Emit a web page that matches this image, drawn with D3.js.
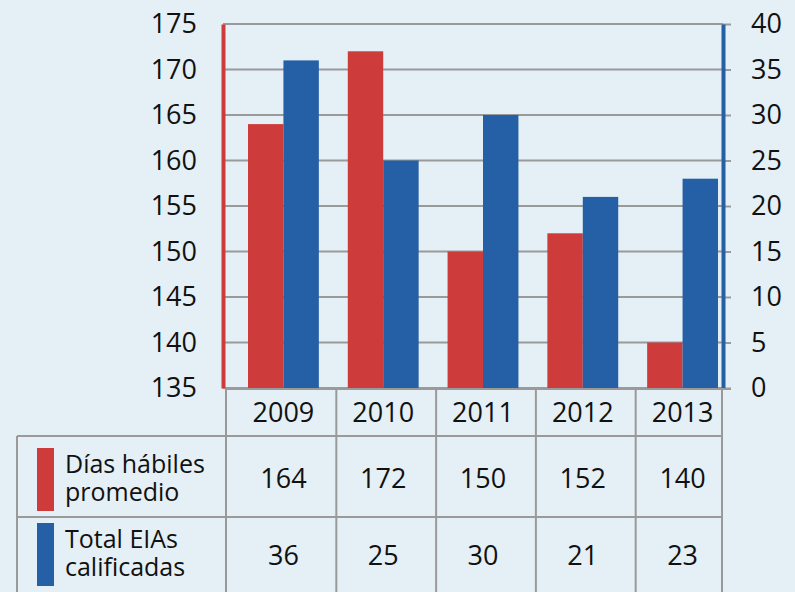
<!DOCTYPE html>
<html>
<head>
<meta charset="utf-8">
<script src="https://cdn.jsdelivr.net/npm/d3@7/dist/d3.min.js"></script>
<style>
  body { margin: 0; background: #e4eff6; }
  svg { display: block; font-family: "Open Sans", sans-serif; }
</style>
</head>
<body>
<svg id="chart" width="795" height="592"></svg>
<script>
// data
var years = ["2009", "2010", "2011", "2012", "2013"];
var diasHabiles = [164, 172, 150, 152, 140];
var totalEIAs = [36, 25, 30, 21, 23];
var seriesNames = ["Días hábiles|promedio", "Total EIAs|calificadas"];
var seriesColors = ["#cd3c3a", "#255fa6"];

var svg = d3.select("#chart");
var W = 795, H = 592;

// plot area
var plotLeft = 223, plotRight = 723, plotTop = 24, plotBottom = 388;

var yL = d3.scaleLinear().domain([135, 175]).range([plotBottom, plotTop]);
var yR = d3.scaleLinear().domain([0, 40]).range([plotBottom, plotTop]);

var x = d3.scaleBand().domain(years)
	.range([plotLeft + 25, plotRight - 5])
	.paddingInner(0.29).paddingOuter(0);
var xs = d3.scaleBand().domain([0, 1]).range([0, x.bandwidth()]);

var rows = years.map(function(y, i) {
	return { year: y, dias: diasHabiles[i], eias: totalEIAs[i] };
});

// gridlines
svg.append("g").selectAll("line")
	.data(yL.ticks(8))
	.enter().append("line")
	.attr("x1", plotLeft).attr("x2", plotRight)
	.attr("y1", function(d) { return yL(d); })
	.attr("y2", function(d) { return yL(d); })
	.attr("stroke", "#9a9a9a")
	.attr("stroke-width", 2);

// bars
var groups = svg.append("g").selectAll("g")
	.data(rows).enter().append("g")
	.attr("transform", function(d) { return "translate(" + x(d.year) + ",0)"; });

groups.append("rect")
	.attr("x", xs(0)).attr("width", xs.bandwidth())
	.attr("y", function(d) { return yL(d.dias); })
	.attr("height", function(d) { return plotBottom - yL(d.dias); })
	.attr("fill", seriesColors[0]);

groups.append("rect")
	.attr("x", xs(1)).attr("width", xs.bandwidth())
	.attr("y", function(d) { return yR(d.eias); })
	.attr("height", function(d) { return plotBottom - yR(d.eias); })
	.attr("fill", seriesColors[1]);

// left axis (red)
var axL = svg.append("g")
	.attr("transform", "translate(" + plotLeft + ",0)")
	.call(d3.axisLeft(yL).ticks(8).tickSize(0).tickPadding(26));
axL.select(".domain").attr("stroke", seriesColors[0]).attr("stroke-width", 4);

// right axis (blue)
var axR = svg.append("g")
	.attr("transform", "translate(" + plotRight + ",0)")
	.call(d3.axisRight(yR).ticks(8).tickSizeInner(8).tickSizeOuter(0).tickPadding(20));
axR.selectAll(".tick line").attr("stroke", "#9a9a9a").attr("stroke-width", 2);
axR.select(".domain").attr("stroke", seriesColors[1]).attr("stroke-width", 4).raise();

svg.selectAll(".tick text")
	.attr("font-size", 27)
	.attr("font-family", "Open Sans, sans-serif")
	.attr("fill", "#111");

// data table
var tblLeft = 17, rowLines = [plotBottom + 1, 436, 517];
var colEdges = [plotLeft + 3].concat(years.slice(1).map(function(y) {
	return x(y) - x.step() * x.paddingInner() / 2 + 3;
})).concat([plotRight - 1]);

var tbl = svg.append("g").attr("stroke", "#9a9a9a").attr("stroke-width", 2);
// horizontal lines
tbl.append("line").attr("x1", plotLeft + 2).attr("x2", plotRight + 8)
	.attr("y1", rowLines[0]).attr("y2", rowLines[0]);
[rowLines[1], rowLines[2]].forEach(function(yy) {
	tbl.append("line").attr("x1", tblLeft).attr("x2", plotRight - 1)
		.attr("y1", yy).attr("y2", yy);
});
// vertical lines
colEdges.forEach(function(xx) {
	tbl.append("line").attr("x1", xx).attr("x2", xx)
		.attr("y1", rowLines[0]).attr("y2", H);
});
tbl.append("line").attr("x1", tblLeft).attr("x2", tblLeft)
	.attr("y1", rowLines[1]).attr("y2", H);

// years row and values
var cellText = svg.append("g")
	.attr("font-size", 27).attr("fill", "#111").attr("text-anchor", "middle");

cellText.selectAll(".yr").data(rows).enter().append("text")
	.attr("x", function(d) { return x(d.year) + x.bandwidth() / 2; })
	.attr("y", 422)
	.text(function(d) { return d.year; });

cellText.selectAll(".v1").data(rows).enter().append("text")
	.attr("x", function(d) { return x(d.year) + x.bandwidth() / 2; })
	.attr("y", 488)
	.text(function(d) { return d.dias; });

cellText.selectAll(".v2").data(rows).enter().append("text")
	.attr("x", function(d) { return x(d.year) + x.bandwidth() / 2; })
	.attr("y", 565)
	.text(function(d) { return d.eias; });

// legend cells
var legendTop = [448, 523];
seriesNames.forEach(function(name, i) {
	svg.append("rect")
		.attr("x", 37).attr("y", legendTop[i])
		.attr("width", 17).attr("height", 63)
		.attr("fill", seriesColors[i]);
	var t = svg.append("text")
		.attr("x", 65).attr("y", legendTop[i] + 25)
		.attr("font-size", 25).attr("fill", "#111");
	name.split("|").forEach(function(line, j) {
		t.append("tspan").attr("x", 65).attr("dy", j === 0 ? 0 : 28).text(line);
	});
});
</script>
</body>
</html>
